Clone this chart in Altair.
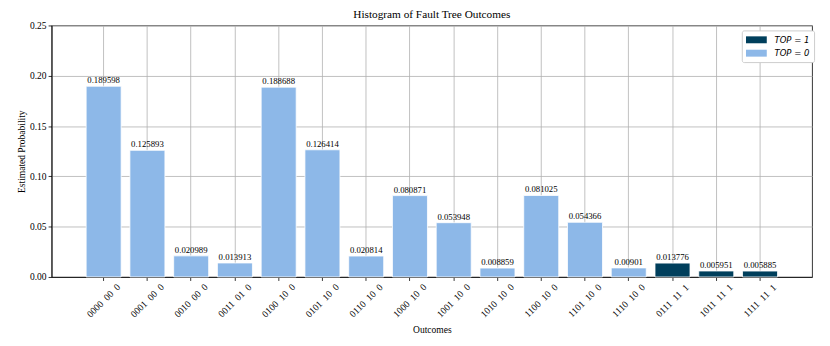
import altair as alt
import pandas as pd

SP = "\u2002"
outcomes = ["0000 00 0", "0001 00 0", "0010 00 0", "0011 01 0", "0100 10 0",
            "0101 10 0", "0110 10 0", "1000 10 0", "1001 10 0", "1010 10 0",
            "1100 10 0", "1101 10 0", "1110 10 0", "0111 11 1", "1011 11 1",
            "1111 11 1"]
probs = [0.189598, 0.125893, 0.020989, 0.013913, 0.188688, 0.126414, 0.020814,
         0.080871, 0.053948, 0.008859, 0.081025, 0.054366, 0.00901, 0.013776,
         0.005951, 0.005885]
top_vals = ["0"] * 13 + ["1"] * 3
y_ticks = [0.0, 0.05, 0.10, 0.15, 0.20, 0.25]

df = pd.DataFrame({
    "outcome": [o.replace(" ", SP) for o in outcomes],
    "prob": probs,
    "top": top_vals,
    "label": [str(p) for p in probs],
})

SERIF = "Liberation Serif"
DARK = "#003f5c"
LIGHT = "#8db8e8"
FS = 9.6

x_enc = alt.X(
    "outcome:N", sort=None, title="Outcomes",
    scale=alt.Scale(paddingInner=0.2, paddingOuter=0.79),
    axis=alt.Axis(labelAngle=315, labelAlign="center", labelBaseline="middle",
                  labelPadding=20, bandPosition=0.5, grid=True,
                  gridColor="#b0b0b0", gridWidth=0.8,
                  tickColor="black", tickSize=3.5, tickWidth=0.8,
                  domainColor="black", domainWidth=0.8,
                  labelFont=SERIF, labelFontSize=FS, labelColor="black",
                  titleFont=SERIF, titleFontSize=FS, titleFontWeight="normal",
                  titleColor="black", titlePadding=6),
)
y_enc = alt.Y(
    "prob:Q", title="Estimated Probability",
    scale=alt.Scale(domain=[0, 0.25], nice=False, zero=True),
    axis=alt.Axis(values=y_ticks, format=".2f", grid=True,
                  gridColor="#b0b0b0", gridWidth=0.8,
                  tickColor="black", tickSize=3.5, tickWidth=0.8,
                  domainColor="black", domainWidth=0.8,
                  labelFont=SERIF, labelFontSize=FS, labelColor="black",
                  labelPadding=2,
                  titleFont=SERIF, titleFontSize=FS, titleFontWeight="normal",
                  titleColor="black", titlePadding=3),
)

bars = alt.Chart(df).mark_bar(stroke="white", strokeWidth=0.8).encode(
    x=x_enc,
    y=y_enc,
    color=alt.Color(
        "top:N", title=None,
        scale=alt.Scale(domain=["1", "0"], range=[DARK, LIGHT]),
        legend=alt.Legend(
            orient="none", legendX=697, legendY=5,
            labelExpr="'TOP = ' + datum.label",
            labelFont="DejaVu Sans", labelFontStyle="italic", labelFontSize=8.6,
            labelColor="black",
            symbolType="M-1,-0.667H3V0.667H-1Z", symbolSize=110,
            symbolStrokeWidth=0, symbolOpacity=1,
            strokeColor="#cccccc", fillColor="white", padding=4,
            cornerRadius=2, rowPadding=2.5, labelOffset=18,
        ),
    ),
)

texts = alt.Chart(df).mark_text(
    baseline="bottom", dy=-1, font=SERIF, fontSize=8.8, color="black"
).encode(
    x=alt.X("outcome:N", sort=None),
    y=alt.Y("prob:Q"),
    text="label:N",
)

chart = (bars + texts).properties(
    width=768, height=254,
    title=alt.TitleParams("Histogram of Fault Tree Outcomes", font=SERIF,
                          fontSize=11.4, fontWeight="normal", color="black",
                          offset=6, dy=6, anchor="middle"),
    autosize=alt.AutoSizeParams(type="none"),
    padding={"left": 44, "top": 16, "right": 10, "bottom": 60},
).configure_view(stroke="black", strokeWidth=0.8)

chart.save("out.html", embed_options={"renderer": "svg", "actions": False})
